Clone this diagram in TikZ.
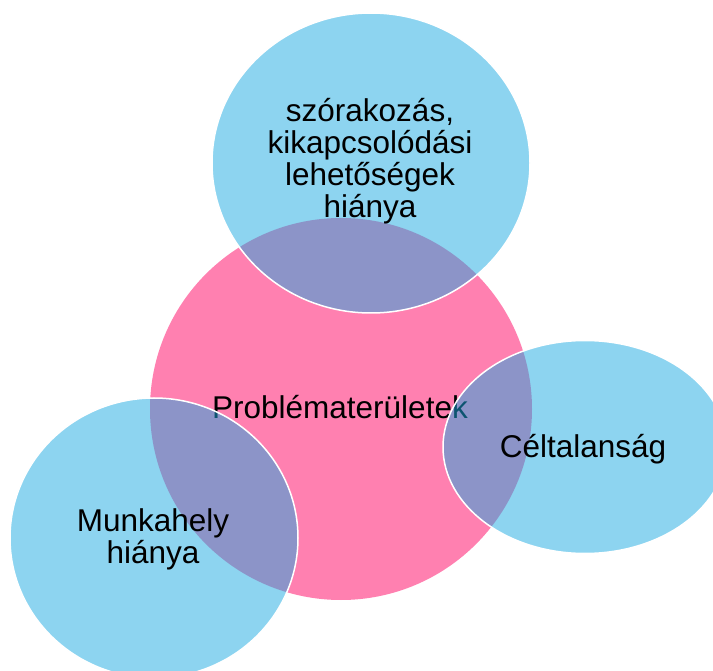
\documentclass[tikz,border=0pt]{standalone}
\usepackage{fontspec}
\setmainfont{Liberation Sans}
\usetikzlibrary{shapes.geometric}

\definecolor{probpink}{RGB}{255,128,176}
\definecolor{causeblue}{RGB}{27,169,225}

\tikzset{every picture/.style={line width=0.75pt}}
\tikzset{
  causeblob/.style={ellipse, inner sep=0pt, draw=white, line width=1.5pt, fill=causeblue, fill opacity=0.5, draw opacity=1},
  bigtext/.style={font=\fontsize{31.5}{32}\selectfont, align=center, anchor=base, inner sep=0pt}
}

\begin{document}
\begin{tikzpicture}[x=1pt,y=1pt,yscale=-1,xscale=1]
\useasboundingbox (0,0) rectangle (713,671);
\clip (0,0) rectangle (713,671);

%Shape: Circle [id:problems]
\node [circle, inner sep=0pt, minimum size=382, fill=probpink] (problems) at (341,409) {};
% Text Node
\node [bigtext] (problemstext) at (340,418) {Problématerületek};

%Shape: Ellipse [id:fun]
\node [causeblob, minimum width=318, minimum height=300] (fun) at (371,163) {};
%Shape: Ellipse [id:aim]
\node [causeblob, minimum width=284, minimum height=213] (aim) at (585,447) {};
%Shape: Ellipse [id:work]
\node [causeblob, minimum width=288, minimum height=280] (work) at (154,538) {};

% Text Node (base = last line)
\node [bigtext] (funtext) at (370,218) {szórakozás,\\kikapcsolódási\\lehetőségek\\hiánya};
% Text Node
\node [bigtext] (aimtext) at (583,457) {Céltalanság};
% Text Node (base = last line)
\node [bigtext] (worktext) at (153,563) {Munkahely\\hiánya};

\end{tikzpicture}
\end{document}
